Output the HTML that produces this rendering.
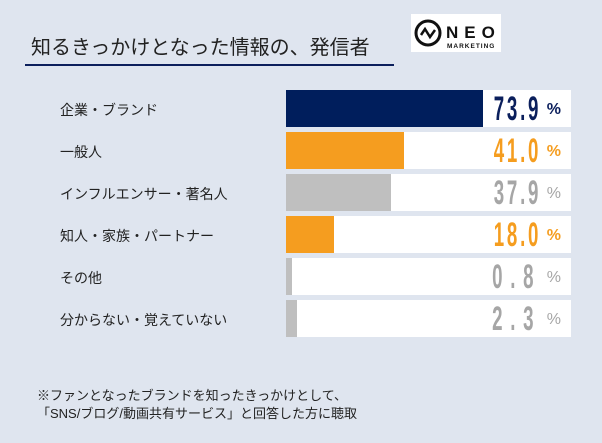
<!DOCTYPE html>
<html><head><meta charset="utf-8"><style>
body{margin:0;width:602px;height:443px;background:#dfe5ef;position:relative;overflow:hidden;font-family:"Liberation Sans","Noto Sans CJK JP",sans-serif;}
.t{position:absolute;left:31px;top:31px;font-size:20px;color:#222;}
.ul{position:absolute;left:25px;top:64px;width:369px;height:2px;background:#0b1f5c;}
.logo{position:absolute;left:411px;top:14px;width:90px;height:38px;background:#fff;}
.lab{position:absolute;left:60px;font-size:14px;color:#222;}
.trk{position:absolute;left:286px;width:285px;height:37px;background:#fff;}
.bar{position:absolute;left:0;top:0;height:37px;}
.v{position:absolute;right:30px;top:0;height:37px;line-height:38px;font-weight:bold;font-size:34px;transform:scaleX(0.55);transform-origin:right center;letter-spacing:5px;}
.p{position:absolute;right:10px;top:11px;font-size:16px;font-weight:bold;}
.fn{position:absolute;left:37px;font-size:13px;color:#222;}
</style></head><body>
<div class="t">知るきっかけとなった情報の、発信者</div>
<div class="ul"></div>
<div class="logo">
<svg width="90" height="38"><circle cx="17" cy="19" r="12" fill="none" stroke="#111" stroke-width="3"/><polyline points="10,21 14,15 19,23 24,16" fill="none" stroke="#111" stroke-width="2.5"/>
<text x="35" y="24" font-family="Liberation Sans" font-weight="bold" font-size="17" letter-spacing="6" fill="#111">NEO</text>
<text x="36" y="34" font-family="Liberation Sans" font-weight="bold" font-size="6.5" letter-spacing="1" fill="#111">MARKETING</text></svg></div>

<div class="lab" style="top:100px">企業・ブランド</div>
<div class="trk" style="top:90px"><div class="bar" style="width:197px;background:#001e5c"></div><div class="v" style="color:#0b1f5c">73.9</div><div class="p" style="color:#0b1f5c">%</div></div>

<div class="lab" style="top:142px">一般人</div>
<div class="trk" style="top:132px"><div class="bar" style="width:118px;background:#f59d1f"></div><div class="v" style="color:#f59d1f">41.0</div><div class="p" style="color:#f59d1f">%</div></div>

<div class="lab" style="top:184px">インフルエンサー・著名人</div>
<div class="trk" style="top:174px"><div class="bar" style="width:105px;background:#bfbfbf"></div><div class="v" style="color:#a6a6a6">37.9</div><div class="p" style="color:#a6a6a6;font-weight:normal">%</div></div>

<div class="lab" style="top:226px">知人・家族・パートナー</div>
<div class="trk" style="top:216px"><div class="bar" style="width:48px;background:#f59d1f"></div><div class="v" style="color:#f59d1f">18.0</div><div class="p" style="color:#f59d1f">%</div></div>

<div class="lab" style="top:268px">その他</div>
<div class="trk" style="top:258px"><div class="bar" style="width:6px;background:#bfbfbf"></div><div class="v" style="color:#a6a6a6;letter-spacing:14px">0.8</div><div class="p" style="color:#a6a6a6;font-weight:normal">%</div></div>

<div class="lab" style="top:310px">分からない・覚えていない</div>
<div class="trk" style="top:300px"><div class="bar" style="width:11px;background:#bfbfbf"></div><div class="v" style="color:#a6a6a6;letter-spacing:14px">2.3</div><div class="p" style="color:#a6a6a6;font-weight:normal">%</div></div>

<div class="fn" style="top:385px">※ファンとなったブランドを知ったきっかけとして、</div>
<div class="fn" style="top:403px">「SNS/ブログ/動画共有サービス」と回答した方に聴取</div>
</body></html>
